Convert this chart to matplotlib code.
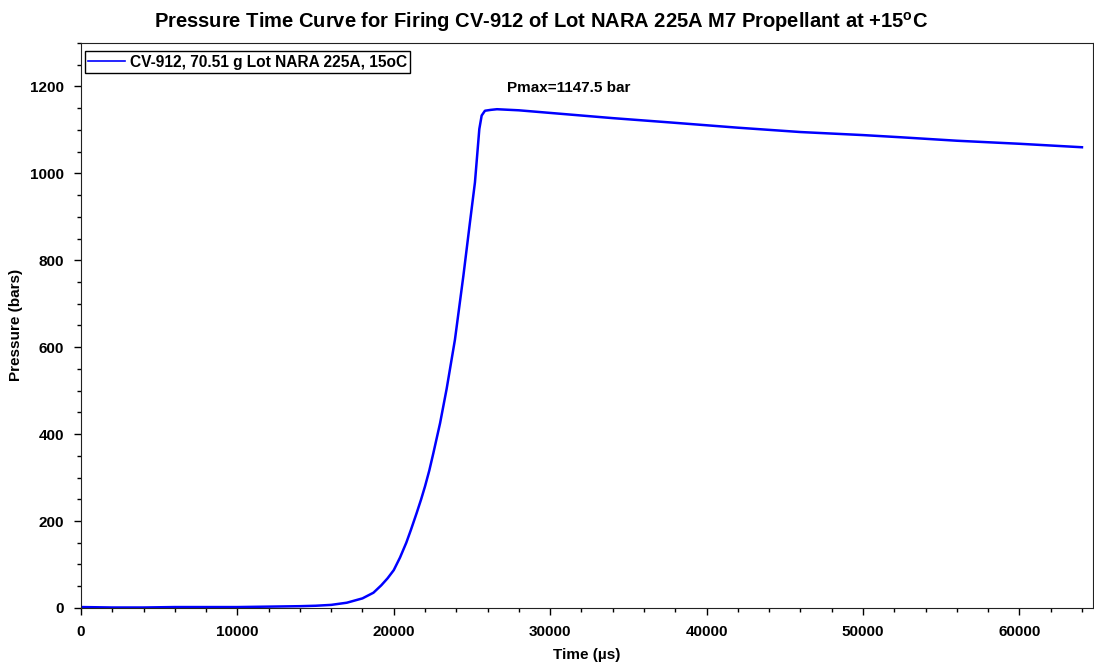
import matplotlib
matplotlib.use('Agg')
import matplotlib.pyplot as plt
from matplotlib.ticker import MultipleLocator

plt.rcParams['font.family'] = ['Liberation Sans', 'DejaVu Sans']
plt.rcParams['font.weight'] = 'bold'
plt.rcParams['mathtext.fontset'] = 'custom'
plt.rcParams['mathtext.bf'] = 'Liberation Sans:bold'
plt.rcParams['mathtext.rm'] = 'Liberation Sans:bold'

# values
time_us = [0, 2000, 4000, 6000, 8000, 10000, 12000, 14000, 15000, 16000, 17000, 18000,
           18700, 19200, 19600, 20000, 20400, 20800, 21100, 21460, 21750, 22000, 22270,
           22530, 22960, 23380, 23910, 24450, 24870, 25190, 25470, 25620, 25830, 26200,
           26600, 28000, 30000, 34000, 37700, 42000, 46000, 50000, 52400, 56000, 60000,
           64000]
pressure = [2, 1, 1, 2, 2, 2, 3, 4, 5, 7, 12, 22,
            35, 52, 68, 87, 116, 150, 180, 218, 250, 280, 316,
            356, 425, 504, 617, 764, 887, 979, 1102, 1133, 1144, 1146,
            1147.5, 1145, 1139, 1127, 1117, 1105, 1095, 1088, 1083, 1075, 1068,
            1060]

series_label = 'CV-912, 70.51 g Lot NARA 225A, 15oC'
pmax_label = 'Pmax=1147.5 bar'

fig = plt.figure(figsize=(10.94, 6.71), dpi=100)
ax = fig.add_axes([0.074, 0.094, 0.925, 0.842])

ax.plot(time_us, pressure, color='#0000ff', linewidth=1.8, label=series_label)

ax.set_xlim(0, 64700)
ax.set_ylim(0, 1300)
ax.xaxis.set_major_locator(MultipleLocator(10000))
ax.xaxis.set_minor_locator(MultipleLocator(2000))
ax.yaxis.set_major_locator(MultipleLocator(200))
ax.yaxis.set_minor_locator(MultipleLocator(50))
ax.tick_params(which='major', length=5, width=1, labelsize=11, pad=7)
ax.tick_params(which='minor', length=3, width=1)
for lab in ax.get_xticklabels() + ax.get_yticklabels():
    lab.set_fontweight('bold')
for s in ax.spines.values():
    s.set_color('#222222')

ax.set_xlabel('Time (\u00b5s)', fontsize=11, fontweight='bold', labelpad=7)
ax.set_ylabel('Pressure (bars)', fontsize=11, fontweight='bold', labelpad=5)

ax.text(31200, 1196, pmax_label, ha='center', va='center', fontsize=11, fontweight='bold')

leg = ax.legend(loc='upper left', bbox_to_anchor=(0.004, 0.985), fontsize=11.2,
                fancybox=False, framealpha=1, edgecolor='black', handlelength=2.4,
                borderpad=0.2, handletextpad=0.3, borderaxespad=0)
leg.get_frame().set_linewidth(1)
for t in leg.get_texts():
    t.set_fontweight('bold')
for l in leg.get_lines():
    l.set_linewidth(1.2)

fig.text(0.495, 0.967, 'Pressure Time Curve for Firing CV-912 of Lot NARA 225A M7 Propellant at +15$^{\\mathbf{o}}$C',
         ha='center', va='center', fontsize=14.5, fontweight='bold')

fig.savefig('out.png', dpi=100)
